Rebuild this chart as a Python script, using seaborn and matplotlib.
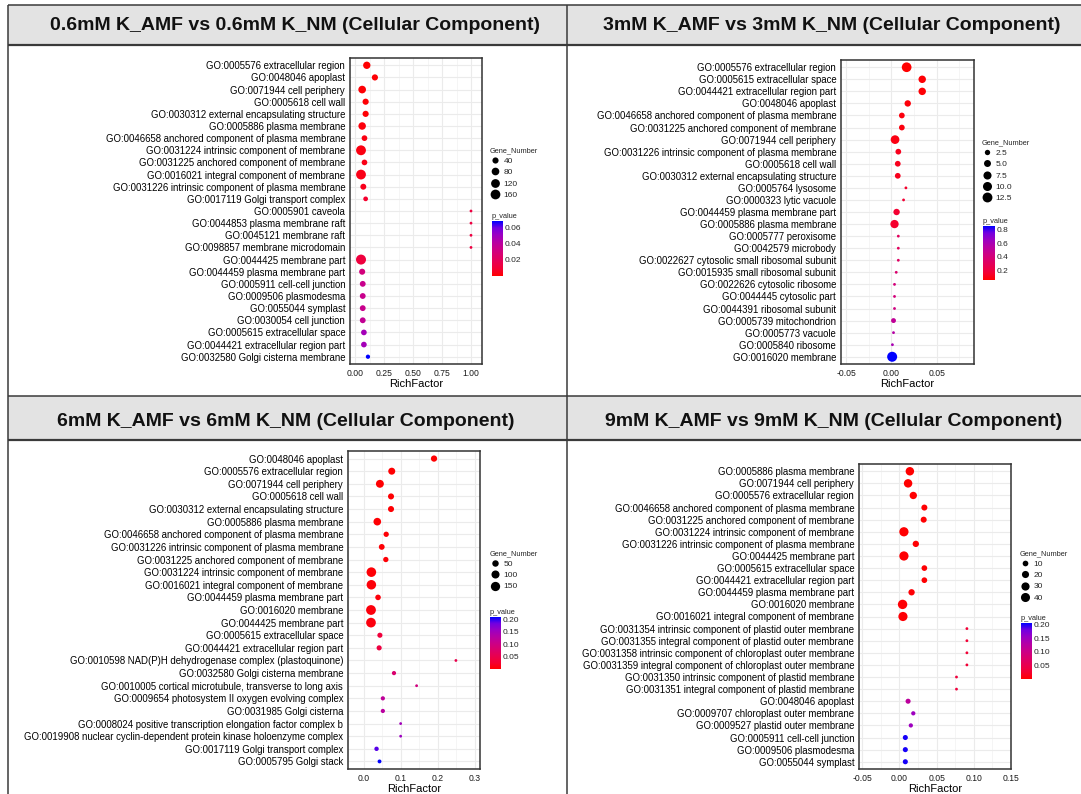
import numpy as np
import pandas as pd
import matplotlib
matplotlib.use("Agg")
import matplotlib.pyplot as plt
import matplotlib.cm as cm
import seaborn as sns
from matplotlib.colors import LinearSegmentedColormap, Normalize
from matplotlib.lines import Line2D
from matplotlib.patches import Rectangle
from matplotlib.ticker import FormatStrFormatter, MultipleLocator

#Set plotting styles
sns.set_style("white")
plt.rcParams["font.family"] = ["Liberation Sans", "DejaVu Sans"]

W, H = 1081, 794

#Panel titles
titles = ["0.6mM K_AMF vs 0.6mM K_NM (Cellular Component)",
          "3mM K_AMF vs 3mM K_NM (Cellular Component)",
          "6mM K_AMF vs 6mM K_NM (Cellular Component)",
          "9mM K_AMF vs 9mM K_NM (Cellular Component)"]

#0.6mM
terms1 = ["GO:0005576 extracellular region",
          "GO:0048046 apoplast",
          "GO:0071944 cell periphery",
          "GO:0005618 cell wall",
          "GO:0030312 external encapsulating structure",
          "GO:0005886 plasma membrane",
          "GO:0046658 anchored component of plasma membrane",
          "GO:0031224 intrinsic component of membrane",
          "GO:0031225 anchored component of membrane",
          "GO:0016021 integral component of membrane",
          "GO:0031226 intrinsic component of plasma membrane",
          "GO:0017119 Golgi transport complex",
          "GO:0005901 caveola",
          "GO:0044853 plasma membrane raft",
          "GO:0045121 membrane raft",
          "GO:0098857 membrane microdomain",
          "GO:0044425 membrane part",
          "GO:0044459 plasma membrane part",
          "GO:0005911 cell-cell junction",
          "GO:0009506 plasmodesma",
          "GO:0055044 symplast",
          "GO:0030054 cell junction",
          "GO:0005615 extracellular space",
          "GO:0044421 extracellular region part",
          "GO:0032580 Golgi cisterna membrane"]
rich1 = [0.10, 0.17, 0.06, 0.09, 0.09, 0.06, 0.08, 0.05, 0.08, 0.05, 0.07, 0.09,
         1.0, 1.0, 1.0, 1.0, 0.05, 0.06, 0.065, 0.065, 0.065, 0.065, 0.075, 0.075, 0.11]
genes1 = [70, 40, 80, 40, 40, 75, 30, 165, 30, 163, 35, 15,
          3, 3, 3, 3, 172, 38, 33, 33, 33, 33, 30, 30, 10]
pvals1 = [0.0005, 0.001, 0.001, 0.001, 0.001, 0.002, 0.003, 0.003, 0.004, 0.004, 0.005, 0.008,
          0.013, 0.013, 0.013, 0.013, 0.012, 0.030, 0.035, 0.035, 0.035, 0.037, 0.048, 0.048, 0.068]

#3mM
terms2 = ["GO:0005576 extracellular region",
          "GO:0005615 extracellular space",
          "GO:0044421 extracellular region part",
          "GO:0048046 apoplast",
          "GO:0046658 anchored component of plasma membrane",
          "GO:0031225 anchored component of membrane",
          "GO:0071944 cell periphery",
          "GO:0031226 intrinsic component of plasma membrane",
          "GO:0005618 cell wall",
          "GO:0030312 external encapsulating structure",
          "GO:0005764 lysosome",
          "GO:0000323 lytic vacuole",
          "GO:0044459 plasma membrane part",
          "GO:0005886 plasma membrane",
          "GO:0005777 peroxisome",
          "GO:0042579 microbody",
          "GO:0022627 cytosolic small ribosomal subunit",
          "GO:0015935 small ribosomal subunit",
          "GO:0022626 cytosolic ribosome",
          "GO:0044445 cytosolic part",
          "GO:0044391 ribosomal subunit",
          "GO:0005739 mitochondrion",
          "GO:0005773 vacuole",
          "GO:0005840 ribosome",
          "GO:0016020 membrane"]
rich2 = [0.0168, 0.034, 0.034, 0.018, 0.0115, 0.0115, 0.004, 0.0076, 0.007, 0.007, 0.016, 0.0134,
         0.0057, 0.0034, 0.0076, 0.0076, 0.0076, 0.0053, 0.0034, 0.0034, 0.0034, 0.0023, 0.0023, 0.0011, 0.0008]
genes2 = [12, 6, 6, 4, 3, 3, 9, 3, 3, 3, 1, 1, 4, 8, 1, 1, 1, 1, 1, 1, 1, 2, 1, 1, 13]
pvals2 = [0.06, 0.07, 0.07, 0.08, 0.09, 0.09, 0.10, 0.12, 0.12, 0.12, 0.15, 0.17, 0.16, 0.15,
          0.30, 0.30, 0.32, 0.36, 0.40, 0.40, 0.42, 0.50, 0.55, 0.60, 0.85]

#6mM
terms3 = ["GO:0048046 apoplast",
          "GO:0005576 extracellular region",
          "GO:0071944 cell periphery",
          "GO:0005618 cell wall",
          "GO:0030312 external encapsulating structure",
          "GO:0005886 plasma membrane",
          "GO:0046658 anchored component of plasma membrane",
          "GO:0031226 intrinsic component of plasma membrane",
          "GO:0031225 anchored component of membrane",
          "GO:0031224 intrinsic component of membrane",
          "GO:0016021 integral component of membrane",
          "GO:0044459 plasma membrane part",
          "GO:0016020 membrane",
          "GO:0044425 membrane part",
          "GO:0005615 extracellular space",
          "GO:0044421 extracellular region part",
          "GO:0010598 NAD(P)H dehydrogenase complex (plastoquinone)",
          "GO:0032580 Golgi cisterna membrane",
          "GO:0010005 cortical microtubule, transverse to long axis",
          "GO:0009654 photosystem II oxygen evolving complex",
          "GO:0031985 Golgi cisterna",
          "GO:0008024 positive transcription elongation factor complex b",
          "GO:0019908 nuclear cyclin-dependent protein kinase holoenzyme complex",
          "GO:0017119 Golgi transport complex",
          "GO:0005795 Golgi stack"]
rich3 = [0.19, 0.076, 0.044, 0.074, 0.074, 0.037, 0.061, 0.049, 0.06, 0.021, 0.021, 0.039,
         0.02, 0.02, 0.044, 0.042, 0.249, 0.082, 0.143, 0.052, 0.052, 0.10, 0.10, 0.035, 0.043]
genes3 = [45, 65, 95, 40, 40, 85, 25, 35, 25, 165, 160, 30, 175, 170, 22, 22, 3, 10, 3, 10, 10, 3, 3, 12, 7]
pvals3 = [0.001, 0.001, 0.001, 0.002, 0.002, 0.002, 0.003, 0.004, 0.004, 0.004, 0.005, 0.006,
          0.007, 0.008, 0.035, 0.040, 0.050, 0.080, 0.095, 0.120, 0.125, 0.150, 0.155, 0.190, 0.210]

#9mM
terms4 = ["GO:0005886 plasma membrane",
          "GO:0071944 cell periphery",
          "GO:0005576 extracellular region",
          "GO:0046658 anchored component of plasma membrane",
          "GO:0031225 anchored component of membrane",
          "GO:0031224 intrinsic component of membrane",
          "GO:0031226 intrinsic component of plasma membrane",
          "GO:0044425 membrane part",
          "GO:0005615 extracellular space",
          "GO:0044421 extracellular region part",
          "GO:0044459 plasma membrane part",
          "GO:0016020 membrane",
          "GO:0016021 integral component of membrane",
          "GO:0031354 intrinsic component of plastid outer membrane",
          "GO:0031355 integral component of plastid outer membrane",
          "GO:0031358 intrinsic component of chloroplast outer membrane",
          "GO:0031359 integral component of chloroplast outer membrane",
          "GO:0031350 intrinsic component of plastid membrane",
          "GO:0031351 integral component of plastid membrane",
          "GO:0048046 apoplast",
          "GO:0009707 chloroplast outer membrane",
          "GO:0009527 plastid outer membrane",
          "GO:0005911 cell-cell junction",
          "GO:0009506 plasmodesma",
          "GO:0055044 symplast"]
rich4 = [0.014, 0.0116, 0.0186, 0.0335, 0.0326, 0.006, 0.022, 0.006, 0.0335, 0.0335, 0.0163, 0.0042,
         0.0047, 0.0907, 0.0907, 0.0907, 0.0907, 0.0767, 0.0767, 0.0116, 0.0186, 0.0153, 0.0079, 0.0079, 0.0079]
genes4 = [33, 33, 22, 12, 12, 42, 14, 42, 10, 10, 14, 44, 41, 2, 2, 2, 2, 2, 2, 7, 4, 4, 7, 7, 7]
pvals4 = [0.0005, 0.0005, 0.001, 0.001, 0.001, 0.001, 0.002, 0.002, 0.002, 0.002, 0.003, 0.003,
          0.003, 0.030, 0.030, 0.030, 0.030, 0.035, 0.035, 0.120, 0.150, 0.150, 0.200, 0.200, 0.200]

#Axis ticks / legend breaks
xticks = [[0.0, 0.25, 0.5, 0.75, 1.0], [-0.05, 0.0, 0.05], [0.0, 0.1, 0.2, 0.3], [-0.05, 0.0, 0.05, 0.10, 0.15]]
size_breaks = [[40, 80, 120, 160], [2.5, 5.0, 7.5, 10.0, 12.5], [50, 100, 150], [10, 20, 30, 40]]
size_labels = [["40", "80", "120", "160"], ["2.5", "5.0", "7.5", "10.0", "12.5"], ["50", "100", "150"], ["10", "20", "30", "40"]]
p_breaks = [[0.02, 0.04, 0.06], [0.2, 0.4, 0.6, 0.8], [0.05, 0.10, 0.15, 0.20], [0.05, 0.10, 0.15, 0.20]]

#red -> blue gradient (Lab-like, as in ggplot)
cmap = LinearSegmentedColormap.from_list(
    "pv", ["#FF0000", "#F40031", "#E80050", "#DA006C", "#CA0089", "#B500A5", "#9A00C3", "#7300E0", "#0000FF"])

#layout in pixels: (left, right, top, bottom)
panels = [
    dict(terms=terms1, rich=rich1, genes=genes1, p=pvals1, box=(350, 482, 58, 364), xlim=(-0.045, 1.095),
         fmt="%.2f", minor=0.125, plim=(0.0, 0.068), dpx=(2.8, 10.0), leg=(490, 147), cbar=(492, 503, 221, 276)),
    dict(terms=terms2, rich=rich2, genes=genes2, p=pvals2, box=(841, 974, 60, 364), xlim=(-0.0557, 0.0912),
         fmt="%.2f", minor=0.025, plim=(0.06, 0.85), dpx=(2.8, 10.0), leg=(982, 139), cbar=(983, 995, 226, 280)),
    dict(terms=terms3, rich=rich3, genes=genes3, p=pvals3, box=(348, 480, 451, 769), xlim=(-0.042, 0.314),
         fmt="%.1f", minor=0.05, plim=(0.0, 0.21), dpx=(2.8, 9.8), leg=(490, 550), cbar=(490, 501, 617, 669)),
    dict(terms=terms4, rich=rich4, genes=genes4, p=pvals4, box=(859, 1011, 464, 769), xlim=(-0.0544, 0.15),
         fmt="%.2f", minor=0.025, plim=(0.0, 0.205), dpx=(2.8, 9.4), leg=(1020, 550), cbar=(1021, 1032, 623, 679)),
]
title_pos = [(295, 25), (832, 25), (286, 421), (834, 421)]


def fig_rect(left, right, top, bottom):
    return [left / W, 1 - bottom / H, (right - left) / W, (bottom - top) / H]


def dot_area(g, gmin, gmax, dpx):
    #ggplot-like area scale: diameter grows with sqrt of the rescaled value
    d = dpx[0] + (dpx[1] - dpx[0]) * np.sqrt((g - gmin) / (gmax - gmin))
    return (d * 0.72) ** 2


fig = plt.figure(figsize=(W / 100, H / 100), dpi=100)

#table frame and header cells
bg = fig.add_axes([0, 0, 1, 1], zorder=-5)
bg.set_xlim(0, W)
bg.set_ylim(H, 0)
bg.axis("off")
for y0, y1 in [(5, 45), (396, 440)]:
    bg.add_patch(Rectangle((8, y0), W - 8, y1 - y0, facecolor="#E3E3E3", edgecolor="none"))
bg.hlines([5, 396], 8, W, colors="#3A3A3A", linewidth=1.1)
bg.hlines([45, 440], 8, W, colors="#3A3A3A", linewidth=1.6)
bg.vlines([8, 567], 5, H, colors="#3A3A3A", linewidth=1.1)
for t, (tx, ty) in zip(titles, title_pos):
    bg.text(tx, ty, t, ha="center", va="center", fontsize=14, fontweight="bold", color="#111111")

for i, pnl in enumerate(panels):
    df = pd.DataFrame({"Term": pnl["terms"], "RichFactor": pnl["rich"],
                       "Gene_Number": pnl["genes"], "p_value": pnl["p"]})
    gmin, gmax = min(pnl["genes"]), max(pnl["genes"])
    size_map = {g: dot_area(g, gmin, gmax, pnl["dpx"]) for g in sorted(set(pnl["genes"]))}
    pnorm = Normalize(*pnl["plim"])

    ax = fig.add_axes(fig_rect(*pnl["box"]))
    sns.scatterplot(data=df, x="RichFactor", y="Term", hue="p_value", size="Gene_Number",
                    palette=cmap, hue_norm=pnorm, sizes=size_map,
                    linewidth=0, legend=False, ax=ax, zorder=3)
    n = len(pnl["terms"])
    ax.set_ylim(n - 0.4, -0.6)
    ax.set_xlim(*pnl["xlim"])
    ax.set_xticks(xticks[i])
    ax.xaxis.set_major_formatter(FormatStrFormatter(pnl["fmt"]))
    ax.xaxis.set_minor_locator(MultipleLocator(pnl["minor"]))
    ax.set_axisbelow(True)
    ax.grid(True, which="major", color="#EBEBEB", linewidth=0.8)
    ax.grid(True, which="minor", axis="x", color="#F2F2F2", linewidth=0.5)
    ax.set_ylabel("")
    ax.set_xlabel("RichFactor", fontsize=8, labelpad=1, color="black")
    ax.tick_params(axis="y", labelsize=6.9, length=2, width=0.6, pad=1.5, colors="#333333", labelcolor="black")
    ax.tick_params(axis="x", labelsize=6.2, length=2, width=0.6, pad=1.5, colors="#333333", labelcolor="#1A1A1A")
    ax.tick_params(which="minor", length=0)
    for s in ax.spines.values():
        s.set_visible(True)
        s.set_color("#333333")
        s.set_linewidth(1.1)

    #Gene_Number legend
    handles = [Line2D([], [], ls="", marker="o", color="black", markeredgewidth=0,
                      markersize=np.sqrt(dot_area(v, gmin, gmax, pnl["dpx"])))
               for v in size_breaks[i]]
    lx, ly = pnl["leg"]
    ax.legend(handles, size_labels[i], title="Gene_Number", loc="upper left",
              bbox_to_anchor=(lx / W, 1 - ly / H), bbox_transform=fig.transFigure,
              frameon=False, fontsize=6, title_fontsize=5.3, handlelength=1.3, handletextpad=0.35,
              labelspacing=0.4, borderpad=0, borderaxespad=0, alignment="left")

    #p_value colorbar
    cax = fig.add_axes(fig_rect(*pnl["cbar"]))
    cb = fig.colorbar(cm.ScalarMappable(norm=pnorm, cmap=cmap), cax=cax, ticks=p_breaks[i])
    cb.outline.set_visible(False)
    cb.ax.yaxis.set_major_formatter(FormatStrFormatter("%.2f" if i != 1 else "%.1f"))
    cb.ax.yaxis.set_ticks_position("both")
    cb.ax.tick_params(labelsize=6, length=2, width=0.6, color="white", direction="in", pad=1.5)
    cb.ax.set_title("p_value", loc="left", fontsize=5.3, pad=2)

fig.savefig("out.png", dpi=100)
